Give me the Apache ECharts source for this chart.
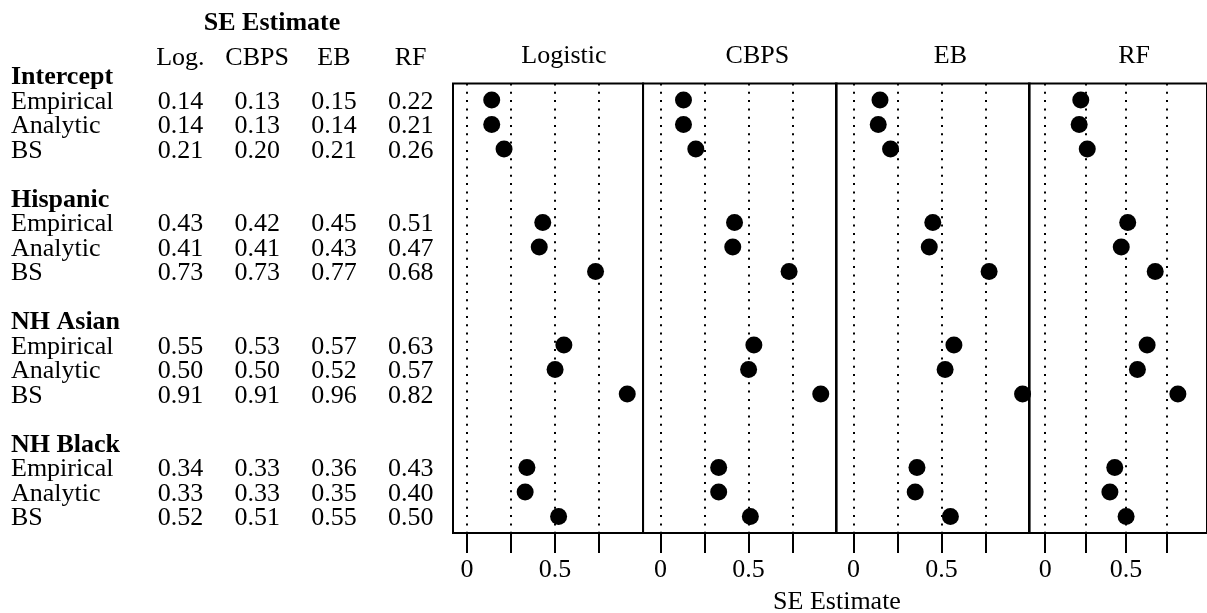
<!DOCTYPE html>
<html>
<head>
<meta charset="utf-8">
<script src="https://cdn.jsdelivr.net/npm/echarts@6/dist/echarts.min.js"></script>
<style>
html,body{margin:0;padding:0;background:#fff;}
#chart{width:1207px;height:613px;}
</style>
</head>
<body>
<div id="chart"></div>
<script>
/* ---------- data ---------- */
const groups=["Intercept","Hispanic","NH Asian","NH Black"];
const kinds=["Empirical","Analytic","BS"];
const methods=["Log.","CBPS","EB","RF"];
const panels=["Logistic","CBPS","EB","RF"];

// rows: Intercept(E,A,BS), Hispanic(E,A,BS), NH Asian(E,A,BS), NH Black(E,A,BS)
const seLog =[0.14,0.14,0.21, 0.43,0.41,0.73, 0.55,0.50,0.91, 0.34,0.33,0.52];
const seCBPS=[0.13,0.13,0.20, 0.42,0.41,0.73, 0.53,0.50,0.91, 0.33,0.33,0.51];
const seEB  =[0.15,0.14,0.21, 0.45,0.43,0.77, 0.57,0.52,0.96, 0.36,0.35,0.55];
const seRF  =[0.22,0.21,0.26, 0.51,0.47,0.68, 0.63,0.57,0.82, 0.43,0.40,0.50];

const xTicks=[0,0.25,0.5,0.75];
const xTickLabels=[0,0.5];

/* ---------- layout ---------- */
const FONT="Liberation Serif";
const FS=26;
const allSE=[seLog,seCBPS,seEB,seRF];
const panelLeft=[453,643,836,1029];
const panelMin=[-0.08,-0.1,-0.1,-0.1];
const unit=176;   // px per 1.0

// slot of a row on the y scale: 3 rows per group, 2 empty slots between groups
function slotOf(r){
return Math.floor(r/3)*5+(r%3);
}

// row labels: group header one slot above its three rows
let headLabels=[];
let kindLabels=[];
groups.forEach((g,i)=>{
headLabels.push([0,i*5-1,g]);
kinds.forEach((k,j)=>{
kindLabels.push([0,i*5+j,k]);
});
});

const txt={color:"#000",fontFamily:FONT,fontSize:FS};
const hidden={show:false};

/* ---------- grids / axes ---------- */
// table grids span slots -2..18 at 24.5px per slot
const tTop=102-2*24.5;
const tH=20*24.5;

let grid=[
{left:142,width:307,top:tTop,height:tH},
{left:11,width:10,top:tTop,height:tH}
];
let xAxis=[
{
gridIndex:0,type:"category",data:methods,position:"top",
axisLine:{show:false,onZero:false},axisTick:hidden,splitLine:hidden,
axisLabel:Object.assign({margin:-18,interval:0},txt)
},
{gridIndex:1,type:"value",min:0,max:1,show:false}
];
let yAxis=[
{gridIndex:0,type:"value",min:-2,max:18,inverse:true,show:false},
{gridIndex:1,type:"value",min:-2,max:18,inverse:true,show:false}
];

let series=[];

function textSeries(xi,data,fmt,extra){
return {
type:"scatter",xAxisIndex:xi,yAxisIndex:xi,
symbolSize:0,itemStyle:{color:"#000",opacity:1},
silent:true,clip:false,
label:Object.assign({show:true,position:"inside",formatter:fmt,
opacity:1,textBorderWidth:0},txt,extra),
data:data
};
}

// table numbers
let tableData=[];
allSE.forEach((arr,m)=>{
arr.forEach((v,r)=>{
tableData.push([m,slotOf(r),v]);
});
});
series.push(textSeries(0,tableData,p=>p.value[2].toFixed(2),{}));

// row labels
series.push(textSeries(1,headLabels,p=>p.value[2],{align:"left",fontWeight:"bold"}));
series.push(textSeries(1,kindLabels,p=>p.value[2],{align:"left"}));

// dot panels
panels.forEach((p,i)=>{

let gi=grid.length;

grid.push({
left:panelLeft[i],width:(1-panelMin[i])*unit,top:83.5,height:449.5,
show:true,borderColor:"#000",borderWidth:2,backgroundColor:"transparent"
});

xAxis.push({
gridIndex:gi,type:"value",min:panelMin[i],max:1,position:"bottom",
axisLine:{show:false,onZero:false},splitLine:hidden,
axisTick:{customValues:xTicks,length:20,lineStyle:{color:"#000",width:2}},
axisLabel:Object.assign({customValues:xTickLabels,margin:24,
formatter:v=>String(v)},txt)
});

yAxis.push({
gridIndex:gi,type:"value",min:-0.673,max:17.673,inverse:true,show:false,
axisLine:{onZero:false}
});

series.push({
type:"scatter",xAxisIndex:gi,yAxisIndex:gi,
symbolSize:17,itemStyle:{color:"#000",opacity:1},
silent:true,
data:allSE[i].map((v,r)=>[v,slotOf(r)]),
markLine:{
silent:true,symbol:"none",label:hidden,
lineStyle:{color:"#000",type:[2,6.3],width:2},
data:xTicks.map(t=>({xAxis:t}))
}
});

});

let chart=echarts.init(document.getElementById("chart"));

chart.setOption({
animation:false,
backgroundColor:"#fff",
grid:grid,
xAxis:xAxis,
yAxis:yAxis,
series:series
});

/* ---------- titles ---------- */
let graphic=[
{type:"text",x:272,y:23,style:{text:"SE Estimate",align:"center",verticalAlign:"middle",
fill:"#000",fontFamily:FONT,fontSize:FS,fontWeight:"bold"}},
{type:"text",x:837,y:602,style:{text:"SE Estimate",align:"center",verticalAlign:"middle",
fill:"#000",fontFamily:FONT,fontSize:FS}}
];

panels.forEach((p,i)=>{
let x=chart.convertToPixel({xAxisIndex:i+2},0.55);
graphic.push({type:"text",x:x,y:56,style:{text:p,align:"center",verticalAlign:"middle",
fill:"#000",fontFamily:FONT,fontSize:FS}});
});

chart.setOption({graphic:graphic});
</script>
</body>
</html>
